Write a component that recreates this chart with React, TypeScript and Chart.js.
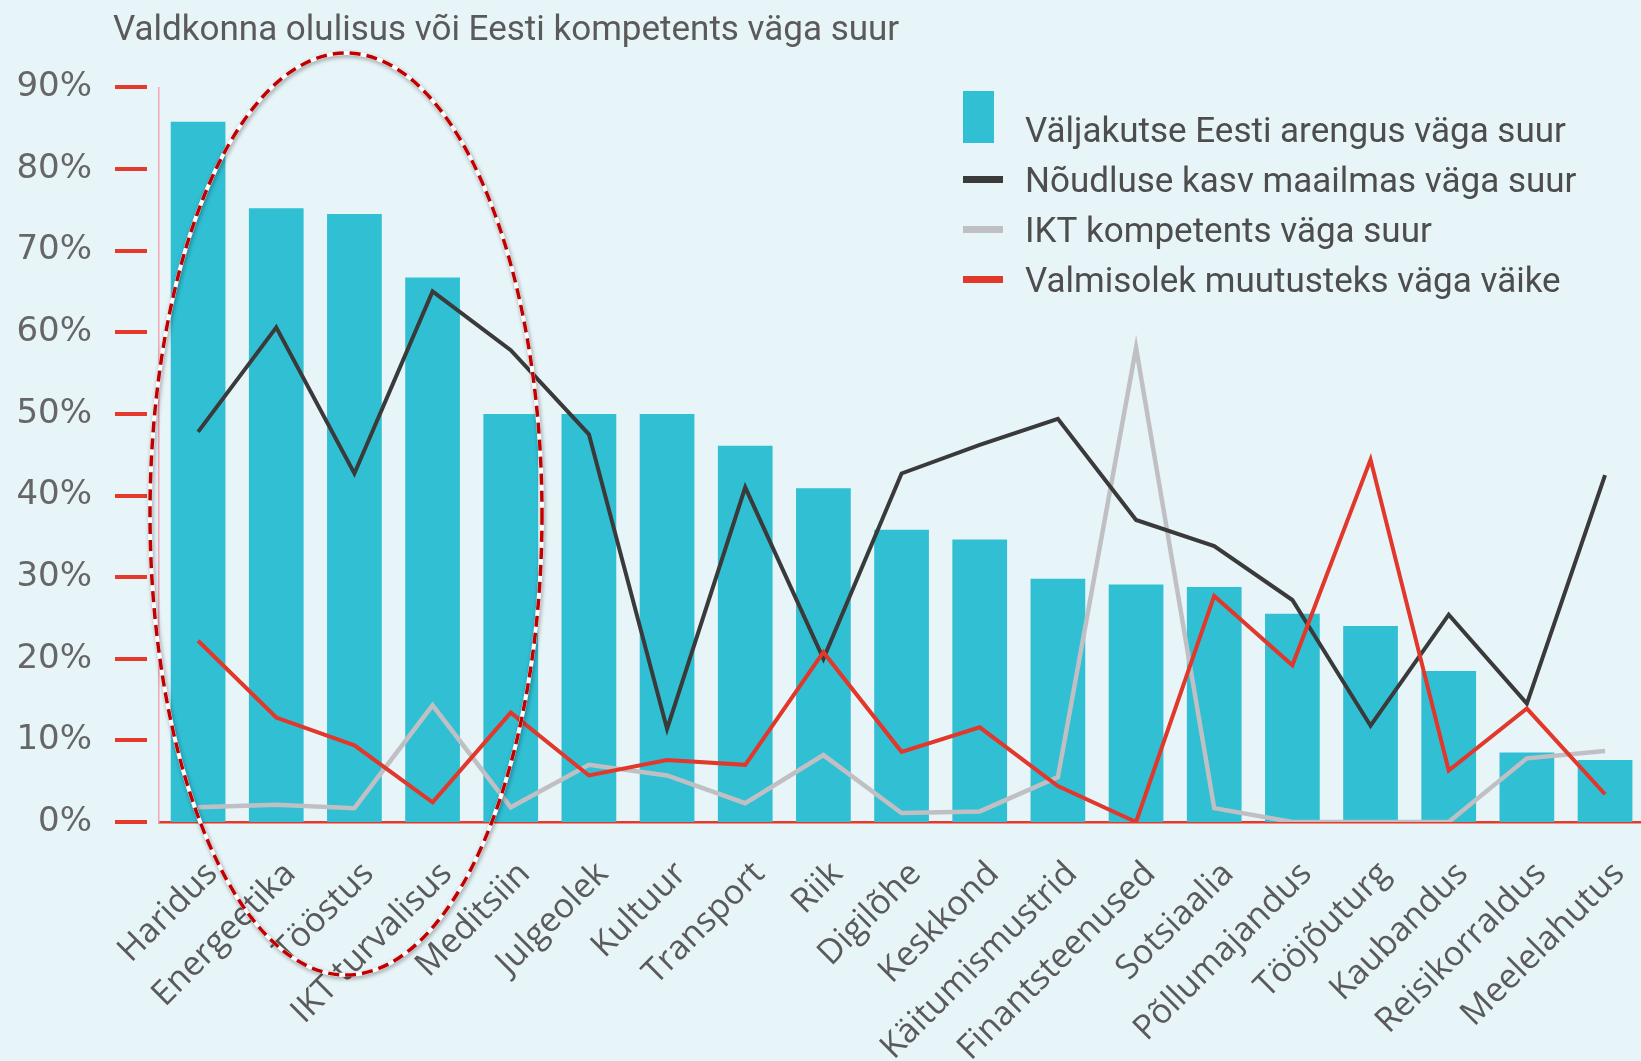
import React, { useEffect, useRef } from 'react';
import { Chart, registerables } from 'chart.js';

Chart.register(...registerables);

const titleText = 'Valdkonna olulisus või Eesti kompetents väga suur';

const categories = [
  'Haridus', 'Energeetika', 'Tööstus', 'IKT turvalisus', 'Meditsiin', 'Julgeolek', 'Kultuur',
  'Transport', 'Riik', 'Digilõhe', 'Keskkond', 'Käitumismustrid', 'Finantsteenused', 'Sotsiaalia',
  'Põllumajandus', 'Tööjõuturg', 'Kaubandus', 'Reisikorraldus', 'Meelelahutus',
];

const seriesNames = [
  'Väljakutse Eesti arengus väga suur',
  'Nõudluse kasv maailmas väga suur',
  'IKT kompetents väga suur',
  'Valmisolek muutusteks väga väike',
];

const challengeValues = [85.8, 75.2, 74.5, 66.7, 50.0, 50.0, 50.0, 46.1, 40.9, 35.8, 34.6, 29.8, 29.1, 28.8, 25.5, 24.0, 18.5, 8.5, 7.6];
const demandValues = [47.8, 60.6, 42.7, 65.0, 57.8, 47.5, 11.4, 41.0, 20.0, 42.7, 46.2, 49.4, 37.0, 33.8, 27.2, 11.8, 25.4, 14.5, 42.5];
const ictValues = [1.8, 2.1, 1.7, 14.3, 1.8, 7.0, 5.7, 2.3, 8.2, 1.1, 1.3, 5.5, 58.1, 1.7, 0, 0, 0, 7.8, 8.7];
const readinessValues = [22.2, 12.8, 9.4, 2.4, 13.4, 5.7, 7.6, 7.0, 20.8, 8.6, 11.6, 4.4, 0, 27.7, 19.2, 44.4, 6.3, 13.9, 3.4];

const yTickValues = [0, 10, 20, 30, 40, 50, 60, 70, 80, 90];

const COLORS = {
  bg: '#e7f4f8',
  bar: '#30bfd3',
  demand: '#3a3a3a',
  ict: '#c0c0c4',
  readiness: '#e2372b',
  tick: '#e5392b',
  axis: '#f2a6b6',
  text: '#555555',
};

const CANVAS_W = 1666;
const CANVAS_H = 1061;

const decorPlugin = {
  id: 'decor',
  beforeDatasetsDraw(chart: any) {
    const { ctx, chartArea, scales } = chart;
    const y = scales.y;
    ctx.save();
    ctx.strokeStyle = COLORS.tick;
    ctx.lineWidth = 4;
    yTickValues.forEach((v) => {
      const py = Math.round(y.getPixelForValue(v));
      ctx.beginPath();
      ctx.moveTo(chartArea.left - 44, py);
      ctx.lineTo(chartArea.left - 12, py);
      ctx.stroke();
    });
    ctx.restore();
  },
  afterDraw(chart: any) {
    const { ctx } = chart;
    ctx.save();
    // title
    ctx.fillStyle = '#5a5a5a';
    ctx.font = '35px Roboto';
    ctx.textAlign = 'left';
    ctx.textBaseline = 'alphabetic';
    ctx.fillText(titleText, 113, 40);

    // legend
    const lx = 963;
    const tx = 1025;
    const baselines = [142, 192, 242, 292];
    ctx.fillStyle = COLORS.bar;
    ctx.fillRect(lx, 91, 31, 52);
    const lineColors = [COLORS.demand, COLORS.ict, COLORS.readiness];
    lineColors.forEach((c, i) => {
      ctx.fillStyle = c;
      ctx.fillRect(lx, baselines[i + 1] - 16, 40, 7);
    });
    ctx.fillStyle = '#4d4d4d';
    ctx.font = '35px Roboto';
    seriesNames.forEach((name, i) => {
      ctx.fillText(name, tx, baselines[i]);
    });

    // dashed ellipse annotation
    const cx = 346, cy = 514, rx = 196, ry = 461;
    ctx.shadowColor = 'rgba(0,0,0,0.35)';
    ctx.shadowBlur = 4;
    ctx.shadowOffsetX = 1;
    ctx.shadowOffsetY = 2;
    ctx.strokeStyle = '#ffffff';
    ctx.lineWidth = 4;
    ctx.beginPath();
    ctx.ellipse(cx, cy, rx, ry, 0, 0, Math.PI * 2);
    ctx.stroke();
    ctx.shadowColor = 'transparent';
    ctx.strokeStyle = '#c00000';
    ctx.lineWidth = 3.5;
    ctx.setLineDash([11, 6]);
    ctx.beginPath();
    ctx.ellipse(cx, cy, rx, ry, 0, 0, Math.PI * 2);
    ctx.stroke();
    ctx.restore();
  },
};

export default function App() {
  const canvasRef = useRef<HTMLCanvasElement | null>(null);

  useEffect(() => {
    document.body.style.margin = '0';
    document.body.style.background = COLORS.bg;
    const canvas = canvasRef.current;
    if (!canvas) return;
    const chart = new Chart(canvas, {
      type: 'bar',
      data: {
        labels: categories,
        datasets: [
          {
            type: 'line',
            label: seriesNames[3],
            data: readinessValues,
            borderColor: COLORS.readiness,
            borderWidth: 4,
            pointRadius: 0,
            tension: 0,
            order: 1,
          },
          {
            type: 'line',
            label: seriesNames[1],
            data: demandValues,
            borderColor: COLORS.demand,
            borderWidth: 4,
            pointRadius: 0,
            tension: 0,
            order: 2,
          },
          {
            type: 'line',
            label: seriesNames[2],
            data: ictValues,
            borderColor: COLORS.ict,
            borderWidth: 4.5,
            pointRadius: 0,
            tension: 0,
            order: 3,
          },
          {
            type: 'bar',
            label: seriesNames[0],
            data: challengeValues,
            backgroundColor: COLORS.bar,
            barPercentage: 0.7,
            categoryPercentage: 1,
            order: 4,
          },
        ],
      } as any,
      options: {
        responsive: false,
        animation: false,
        devicePixelRatio: 1,
        layout: { padding: { top: 85, left: 0, right: 4, bottom: 0 } },
        plugins: {
          legend: { display: false },
          title: { display: false },
          tooltip: { enabled: false },
        },
        scales: {
          x: {
            grid: { display: false, drawTicks: false },
            border: { display: true, color: COLORS.tick, width: 2.5 },
            ticks: {
              autoSkip: false,
              minRotation: 45,
              maxRotation: 45,
              padding: 32,
              labelOffset: 14,
              color: '#5a5a5a',
              font: { family: 'Open Sans', size: 34 },
            },
            afterFit: (scale: any) => {
              scale.height = 239;
            },
          },
          y: {
            min: 0,
            max: 90,
            grid: { display: false, drawTicks: false },
            border: { display: true, color: COLORS.axis, width: 1.5 },
            ticks: {
              stepSize: 10,
              padding: 67,
              color: '#666666',
              font: { family: 'DejaVu Sans', size: 34 },
              callback: (v: any) => `${v}%`,
            },
            afterFit: (scale: any) => {
              scale.width = 159;
            },
          },
        },
      } as any,
      plugins: [decorPlugin],
    });
    return () => chart.destroy();
  }, []);

  return (
    <div
      style={{
        position: 'fixed',
        left: 0,
        top: 0,
        width: 1641,
        height: 1061,
        overflow: 'hidden',
        background: COLORS.bg,
      }}
    >
      <canvas
        ref={canvasRef}
        width={CANVAS_W}
        height={CANVAS_H}
        style={{ position: 'absolute', left: 0, top: 0, width: CANVAS_W, height: CANVAS_H }}
      />
    </div>
  );
}
